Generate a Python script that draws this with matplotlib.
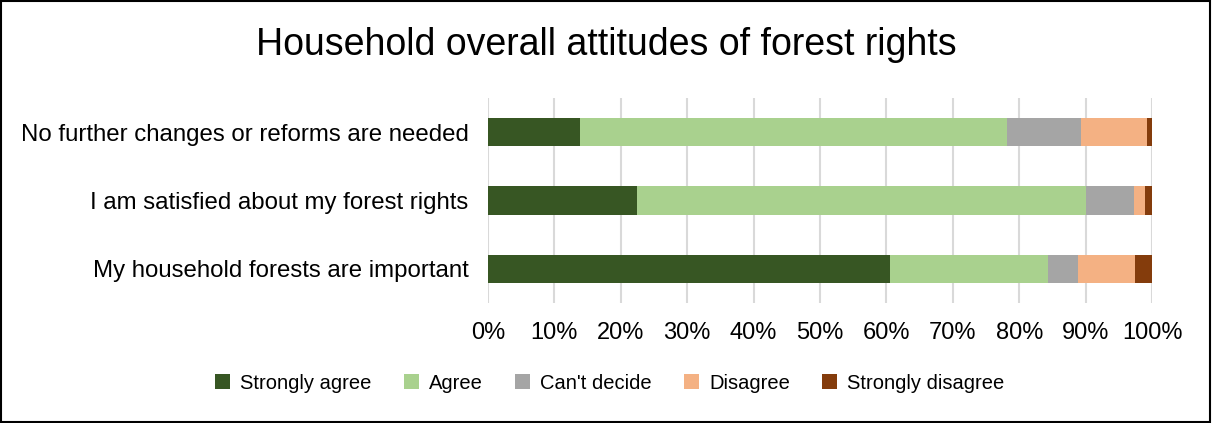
import matplotlib.pyplot as plt
from matplotlib.patches import Rectangle
from matplotlib.ticker import PercentFormatter

plt.rcParams['font.family'] = ['Liberation Sans', 'DejaVu Sans']

# statements, bottom to top as drawn
statements = ['My household forests are important',
              'I am satisfied about my forest rights',
              'No further changes or reforms are needed']
responses = ['Strongly agree', 'Agree', "Can't decide", 'Disagree', 'Strongly disagree']
colors = ['#375623', '#a9d18e', '#a5a5a5', '#f4b183', '#843c0c']

# percent per response, same order as statements
strongly_agree = [60.5, 22.5, 13.8]
agree = [23.8, 67.6, 64.3]
cant_decide = [4.6, 7.2, 11.2]
disagree = [8.6, 1.6, 10.0]
strongly_disagree = [2.5, 1.1, 0.7]
values = [strongly_agree, agree, cant_decide, disagree, strongly_disagree]

fig = plt.figure(figsize=(12.12, 4.23), dpi=100)
ax = fig.add_axes([488 / 1212, 1 - 303 / 423, 664 / 1212, 205 / 423])

left = [0.0] * len(statements)
for name, vals, c in zip(responses, values, colors):
    ax.barh(statements, vals, left=left, height=0.41, color=c, label=name, zorder=3)
    left = [l + v for l, v in zip(left, vals)]

ax.set_xlim(0, 100)
ax.set_ylim(-0.5, 2.5)
ax.set_xticks(range(0, 101, 10))
ax.xaxis.set_major_formatter(PercentFormatter(decimals=0))
ax.grid(axis='x', color='#d9d9d9', linewidth=1.5, zorder=0)
for s in ax.spines.values():
    s.set_visible(False)
ax.tick_params(length=0)
ax.tick_params(axis='x', pad=14, labelsize=17)
ax.tick_params(axis='y', pad=14, labelsize=17.3)

fig.suptitle('Household overall attitudes of forest rights', x=0.5, y=1 - 45 / 423,
             va='center', fontsize=27)

leg = fig.legend(loc='center', bbox_to_anchor=(0.503, 1 - 383 / 423), ncol=5,
                 frameon=False, handlelength=0.75, handleheight=0.75,
                 handletextpad=0.5, columnspacing=1.6,
                 prop={'size': 14.5})

fig.patches.append(Rectangle((0.001, 0.002), 0.997, 0.996, transform=fig.transFigure,
                             fill=False, edgecolor='black', linewidth=1.5))

fig.savefig('out.png', dpi=100)
